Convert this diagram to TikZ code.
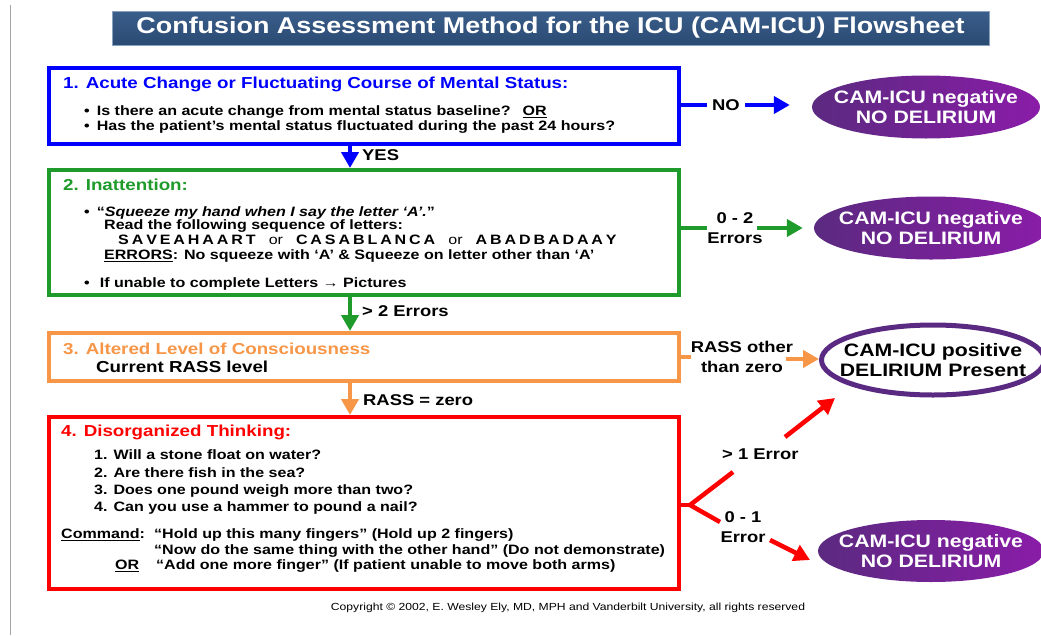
\documentclass[tikz,border=0pt]{standalone}
\usepackage{fontspec}
\setmainfont{Liberation Sans}[FakeStretch=1.18]
\usetikzlibrary{arrows.meta,shapes.geometric}
\definecolor{cblue}{HTML}{0000FF}
\definecolor{cgreen}{HTML}{1E9B2A}
\definecolor{corange}{HTML}{F79646}
\definecolor{cred}{HTML}{FF0000}
\definecolor{cpurpleA}{HTML}{5B2A80}
\definecolor{cpurpleB}{HTML}{8A1CA8}
\definecolor{cring}{HTML}{5A2A82}
\definecolor{ctitleA}{HTML}{3A5E8B}
\definecolor{ctitleB}{HTML}{2A4A72}
\definecolor{ctitleEdge}{HTML}{8AA2BE}
\newcommand{\fsz}[2]{\fontsize{#1}{#2}\selectfont}
\tikzset{
  stage/.style={draw=#1, line width=4pt, fill=white, inner sep=0pt},
  hd/.style={anchor=west, inner sep=0pt, font=\fsz{15.9}{18}\bfseries, text=#1},
  txt/.style={anchor=west, inner sep=0pt, font=\fsz{13.6}{15}\bfseries},
  lbl/.style={inner sep=0pt, font=\fsz{15.6}{20}\bfseries, align=center},
  oval/.style={ellipse, inner xsep=-60pt, inner ysep=-20pt, align=center,
    font=\fsz{18}{20}\bfseries},
  negoval/.style={oval, left color=cpurpleA, right color=cpurpleB, text=white},
  posoval/.style={oval, draw=cring, line width=5pt, fill=white},
  link/.style={draw=#1, line width=4.5pt},
  flowarrow/.style={draw=#1, line width=4.5pt, -{Triangle[length=16pt,width=17pt]}},
}
\begin{document}
\begin{tikzpicture}[x=1pt,y=-1pt]
\useasboundingbox[fill=white] (0,0) rectangle (1041,635);
\draw[gray!70, line width=0.8pt] (10,5) -- (10,635);

% title bar
\node[draw=ctitleEdge, line width=0.8pt, top color=ctitleA, bottom color=ctitleB,
  minimum width=877pt, minimum height=34pt, inner sep=0pt, text=white,
  font=\fsz{22.8}{24}\bfseries] (title) at (550.5,28) {Confusion Assessment Method for the ICU (CAM-ICU) Flowsheet};

% the four stages
\node[stage=cblue,   minimum width=630pt, minimum height=76pt]  (b1) at (364,106) {};
\node[stage=cgreen,  minimum width=630pt, minimum height=125pt] (b2) at (364,232.5) {};
\node[stage=corange, minimum width=630pt, minimum height=48pt]  (b3) at (364,357) {};
\node[stage=cred,    minimum width=630pt, minimum height=172pt] (b4) at (364,503) {};

% stage 1
\node[hd=cblue] (t1) at (63,84) {1. Acute Change or Fluctuating Course of Mental Status:};
\node[txt] (t1a) at (84,112) {•\hspace{7pt}Is there an acute change from mental status baseline?\hspace{12pt}\underline{OR}};
\node[txt] (t1b) at (84,127) {•\hspace{7pt}Has the patient’s mental status fluctuated during the past 24 hours?};

% stage 2
\node[hd=cgreen] (t2) at (63,185) {2. Inattention:};
\node[txt] (t2a) at (84,213) {•\hspace{7pt}“\textit{Squeeze my hand when I say the letter ‘A’.}”};
\node[txt] (t2b) at (104,226) {Read the following sequence of letters:};
\node[txt] (t2c) at (118,239.5) {\spaceskip=2.9pt S A V E A H A A R T\hspace{13pt}\mdseries or\hspace{13pt}\bfseries C A S A B L A N C A\hspace{13pt}\mdseries or\hspace{13pt}\bfseries A B A D B A D A A Y};
\node[txt] (t2d) at (104,256) {\underline{ERRORS}: No squeeze with ‘A’ \& Squeeze on letter other than ‘A’};
\node[txt] (t2e) at (84,284) {•\hspace{10pt}If unable to complete Letters → Pictures};

% stage 3
\node[hd=corange] (t3) at (63,349) {3. Altered Level of Consciousness};
\node[txt, font=\fsz{15.9}{18}\bfseries] (t3a) at (96,367) {Current RASS level};

% stage 4
\node[hd=cred] (t4) at (61,432) {4. Disorganized Thinking:};
\node[txt] (q1) at (94,455) {1. Will a stone float on water?};
\node[txt] (q2) at (94,473) {2. Are there fish in the sea?};
\node[txt] (q3) at (94,491) {3. Does one pound weigh more than two?};
\node[txt] (q4) at (94,508) {4. Can you use a hammer to pound a nail?};
\node[txt] (c0) at (61,535) {\underline{Command}:};
\node[txt] (c1) at (154,535) {“Hold up this many fingers” (Hold up 2 fingers)};
\node[txt] (c2) at (154,551) {“Now do the same thing with the other hand” (Do not demonstrate)};
\node[txt] (c3a) at (115,566) {\underline{OR}};
\node[txt] (c3) at (156,566) {“Add one more finger” (If patient unable to move both arms)};

% outcomes
\node[negoval, minimum width=228pt, minimum height=63pt] (e1) at (926,107) {CAM-ICU negative\\NO DELIRIUM};
\node[negoval, minimum width=234pt, minimum height=63pt] (e2) at (931,228) {CAM-ICU negative\\NO DELIRIUM};
\node[posoval, minimum width=223pt, minimum height=70pt] (e3) at (933,360) {CAM-ICU positive\\DELIRIUM Present};
\node[negoval, minimum width=226pt, minimum height=62pt] (e4) at (931,551) {CAM-ICU negative\\NO DELIRIUM};

% downward flow, left of the box centres
\coordinate (ax) at (350,0);
\draw[flowarrow=cblue]   (b1.south -| ax) -- (b2.north -| ax);
\draw[flowarrow=cgreen]  (b2.south -| ax) -- (b3.north -| ax);
\draw[flowarrow=corange] (b3.south -| ax) -- (b4.north -| ax);
\node[lbl, anchor=west] (yes) at (362,155) {YES};
\node[lbl, anchor=west] (gt2) at (362,311) {> 2 Errors};
\node[lbl, anchor=west] (rz)  at (363,400) {RASS = zero};

% stage 1 -> negative
\node[lbl, inner xsep=5pt] (no) at (726,105) {NO};
\draw[link=cblue] (b1.east |- no) -- (no.west);
\draw[flowarrow=cblue, shorten >=22pt] (no.east) -- (e1.west |- no);

% stage 2 -> negative
\node[lbl] (err02) at (735,228) {0 - 2\\Errors};
\coordinate (g0) at (757,228);
\draw[link=cgreen] (b2.east |- err02) -- (err02.west);
\draw[flowarrow=cgreen, shorten >=11pt] (g0) -- (e2.west);

% stage 3 -> positive
\node[lbl] (rnz) at (742,357) {RASS other\\than zero};
\coordinate (o0) at (786,359);
\draw[link=corange] (b3.east) -- (rnz.west |- b3.east);
\draw[flowarrow=corange] (o0) -- (e3.west |- o0);

% stage 4 fork
\coordinate (fk) at (690,505);
\coordinate (fu) at (733,472);
\coordinate (fd) at (720,522);
\draw[link=cred] (b4.east |- fk) -- (fk);
\draw[link=cred, line join=miter] (fu) -- (fk) -- (fd);
\node[lbl, anchor=west] (gt1) at (722,454) {> 1 Error};
\node[lbl] (err01) at (743,527) {0 - 1\\Error};
\coordinate (ru0) at (785,437);
\coordinate (ru1) at (835,398);
\coordinate (rd0) at (770,540);
\coordinate (rd1) at (810,560);
\draw[flowarrow=cred] (ru0) -- (ru1);
\draw[flowarrow=cred] (rd0) -- (rd1);

% footer
\node[inner sep=0pt, font=\fsz{10.3}{12}] (copy) at (568,608) {Copyright © 2002, E. Wesley Ely, MD, MPH and Vanderbilt University, all rights reserved};
\end{tikzpicture}
\end{document}
